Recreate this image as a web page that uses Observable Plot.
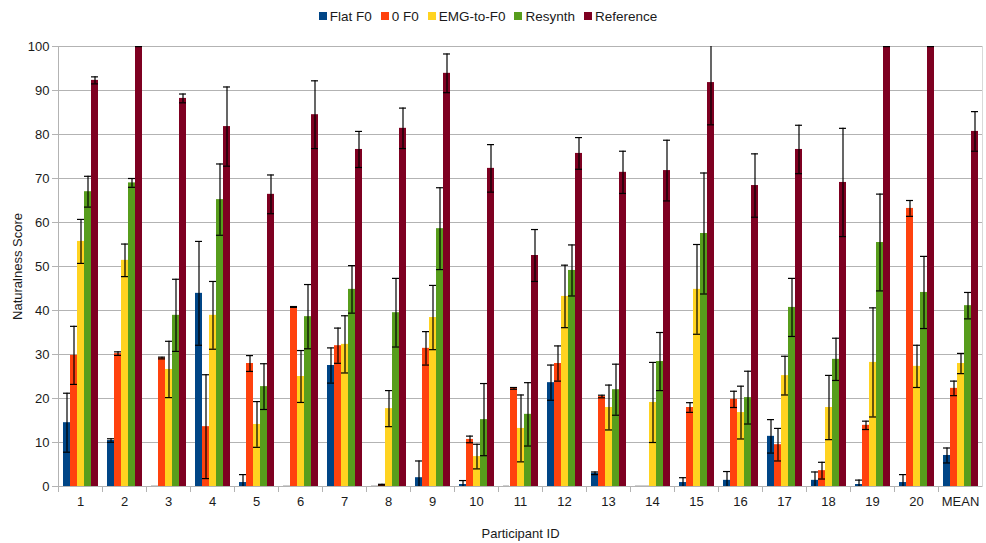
<!DOCTYPE html>
<html>
<head>
<meta charset="utf-8">
<script src="https://cdn.jsdelivr.net/npm/d3@7"></script>
<script src="https://cdn.jsdelivr.net/npm/@observablehq/plot@0.6"></script>
<style>
  body { margin: 0; background: #fff; font-family: "Liberation Sans", Arial, sans-serif; }
  #legend { height: 32px; display: flex; justify-content: center; align-items: center; font-size: 13.5px; color: #1a1a1a; padding-right: 10px; }
  .item { display: flex; align-items: center; margin: 0 4.5px; }
  .sw { width: 8px; height: 8px; margin-right: 3px; }
</style>
</head>
<body>
<div id="legend"></div>
<div id="chart"></div>
<script>
// Groups along the horizontal axis
const participants = ["1","2","3","4","5","6","7","8","9","10","11","12","13","14","15","16","17","18","19","20","MEAN"];

// Conditions (one bar each per participant) and their colours
const seriesNames = ["Flat F0", "0 F0", "EMG-to-F0", "Resynth", "Reference"];
const seriesColors = ["#004586", "#ff420e", "#ffd320", "#579d1c", "#7e0021"];

// Mean naturalness scores per condition
const flatF0    = [14.5, 10.45, 0, 43.9, 0.9, 0, 27.5, 0, 2.0, 0.45, 0, 23.6, 3.0, 0, 0.9, 1.4, 11.4, 1.4, 0.45, 0.9, 7.05];
const zeroF0    = [29.8, 30.2, 29.2, 13.6, 27.95, 40.8, 32.0, 0.4, 31.4, 10.7, 22.3, 27.95, 20.45, 0, 17.95, 19.8, 9.5, 3.6, 13.9, 63.2, 22.3];
const emgToF0   = [55.7, 51.4, 26.6, 38.9, 14.1, 25.0, 32.3, 17.7, 38.4, 6.8, 13.2, 43.2, 17.95, 19.1, 44.8, 16.8, 25.2, 17.95, 28.2, 27.3, 27.95];
const resynth   = [67.0, 69.0, 38.9, 65.2, 22.7, 38.6, 44.8, 39.5, 58.6, 15.2, 16.4, 49.1, 22.0, 28.4, 57.5, 20.2, 40.7, 28.9, 55.45, 44.1, 41.1];
const reference = [92.3, 100, 88.2, 81.8, 66.4, 84.5, 76.6, 81.4, 93.9, 72.3, 52.5, 75.7, 71.4, 71.8, 91.8, 68.4, 76.6, 69.1, 100, 100, 80.7];

// Error-bar half widths per condition
const flatF0Err    = [6.7, 0.4, 0, 11.8, 1.8, 0, 4.0, 0, 3.8, 0.9, 0, 4.0, 0.3, 0, 1.1, 2.0, 3.8, 1.9, 1.0, 1.8, 1.7];
const zeroF0Err    = [6.6, 0.4, 0.2, 11.8, 1.8, 0.1, 4.0, 0.1, 3.8, 0.75, 0.2, 4.0, 0.3, 0, 1.1, 1.85, 3.7, 1.9, 0.95, 1.8, 1.65];
const emgToF0Err   = [5.0, 3.7, 6.4, 7.7, 5.2, 5.9, 6.5, 4.1, 7.3, 2.8, 7.6, 7.1, 5.1, 9.1, 10.2, 6.0, 4.4, 7.3, 12.4, 4.8, 2.3];
const resynthErr   = [3.5, 1.0, 8.2, 8.1, 5.2, 7.3, 5.4, 7.8, 9.3, 8.2, 7.2, 5.8, 5.8, 6.6, 13.75, 6.0, 6.6, 4.8, 11.0, 8.2, 3.0];
const referenceErr = [0.8, 0, 1.0, 9.0, 4.4, 7.7, 4.1, 4.6, 4.4, 5.4, 5.9, 3.6, 4.8, 6.9, 9.6, 7.2, 5.5, 12.3, 0, 0, 4.5];

const yTicks = [0, 10, 20, 30, 40, 50, 60, 70, 80, 90, 100];

// Long-format table for the facets
const values = [flatF0, zeroF0, emgToF0, resynth, reference];
const errors = [flatF0Err, zeroF0Err, emgToF0Err, resynthErr, referenceErr];
const table = [];
seriesNames.forEach((s, k) => participants.forEach((p, i) => {
  table.push({participant: p, series: s, value: values[k][i], err: errors[k][i]});
}));

// Legend row
const legend = document.getElementById("legend");
seriesNames.forEach((s, k) => {
  const item = document.createElement("div");
  item.className = "item";
  const sw = document.createElement("span");
  sw.className = "sw";
  sw.style.background = seriesColors[k];
  const label = document.createElement("span");
  label.textContent = s;
  item.append(sw, label);
  legend.append(item);
});

const lo = d => d.value - d.err;
const hi = d => d.value + d.err;

const chart = Plot.plot({
  width: 986,
  height: 511,
  marginTop: 14,
  marginBottom: 57,
  marginLeft: 57,
  marginRight: 4,
  style: {fontFamily: "'Liberation Sans', Arial, sans-serif", fontSize: "13px", color: "#1a1a1a", background: "#fff"},
  fx: {domain: participants, padding: 0},
  x: {domain: seriesNames, paddingInner: 0, paddingOuter: 0.475, axis: null},
  y: {domain: [0, 100]},
  color: {domain: seriesNames, range: seriesColors},
  marks: [
    Plot.gridY(yTicks, {stroke: "#b3b3b3", strokeOpacity: 1}),
    Plot.frame({anchor: "left", facetAnchor: "left", stroke: "#b3b3b3"}),
    Plot.frame({anchor: "right", facetAnchor: "right", stroke: "#d9d9d9"}),
    Plot.axisY(yTicks, {tickSize: 6, tickPadding: 3, stroke: "#b3b3b3", label: "Naturalness Score", labelAnchor: "center", labelArrow: "none", labelOffset: 46}),
    Plot.axisFx({anchor: "bottom", tickSize: 0, tickPadding: 10, label: "Participant ID", labelAnchor: "center", labelArrow: "none", labelOffset: 51}),
    Plot.axisFx({anchor: "bottom", tickSize: 6, tickFormat: () => "", dx: -22, stroke: "#b3b3b3", label: null}),
    Plot.barY(table, {fx: "participant", x: "series", y: "value", fill: "series"}),
    Plot.ruleX(table, {fx: "participant", x: "series", y1: lo, y2: hi, stroke: "#000", strokeWidth: 1.2, clip: true}),
    Plot.tickY(table, {fx: "participant", x: "series", y: lo, stroke: "#000", strokeWidth: 1.2, clip: true}),
    Plot.tickY(table, {fx: "participant", x: "series", y: hi, stroke: "#000", strokeWidth: 1.2, clip: true})
  ]
});
document.getElementById("chart").append(chart);
</script>
</body>
</html>
